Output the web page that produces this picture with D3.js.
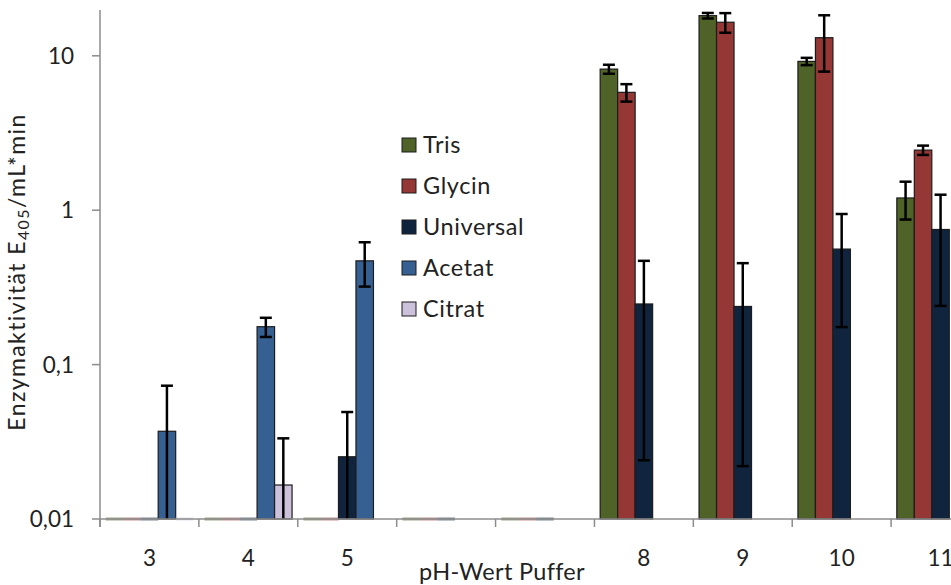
<!DOCTYPE html>
<html><head><meta charset="utf-8">
<script src="https://cdn.jsdelivr.net/npm/d3@7"></script>
<style>body{margin:0;background:#fff}svg{display:block}text{font-family:Lato,"Open Sans",sans-serif;fill:#222}</style>
</head><body><svg id="c" width="951" height="585"></svg>
<script>
// ---- data ----
const categories = ["3","4","5","","","8","9","10","11"];
const seriesNames = ["Tris","Glycin","Universal","Acetat","Citrat"];
const seriesColors = ["#4F6228","#953735","#10243E","#376092","#CCC1DA"];
// 0 = zero value (shown as line at base), null = no bar
const tris       = [0, 0, 0, 0, 0, 8.2, 18.2, 9.2, 1.2];
const trisErr    = [null, null, null, null, null, 0.55, 0.75, 0.5, 0.33];
const glycin     = [0, 0, 0, 0, 0, 5.8, 16.5, 13.1, 2.45];
const glycinErr  = [null, null, null, null, null, 0.75, 2.4, 5.2, 0.17];
const universal  = [0, 0, 0.0253, 0, 0, 0.247, 0.238, 0.56, 0.75];
const universalErr = [null, null, 0.024, null, null, 0.223, 0.216, 0.385, 0.51];
const acetat     = [0.037, 0.176, 0.47, null, null, null, null, null, null];
const acetatErr  = [0.036, 0.025, 0.15, null, null, null, null, null, null];
const citrat     = [0, 0.0166, null, null, null, null, null, null, null];
const citratErr  = [null, 0.0167, null, null, null, null, null, null, null];
const yTicks = [0.01, 0.1, 1, 10];
const yTickLabels = ["0,01", "0,1", "1", "10"];
const yTitle = ["Enzymaktivität E", "405", "/mL*min"];
const xTitle = "pH-Wert Puffer";

const values = [tris, glycin, universal, acetat, citrat];
const errors = [trisErr, glycinErr, universalErr, acetatErr, citratErr];

(function () {
// ---- layout ----
const svg = d3.select("#c");
const left = 100, base = 519, plotTop = 10, right = 990;
const yMin = 0.01, yMax = 19.8;
const y = d3.scaleLog().domain([yMin, yMax]).range([base, plotTop]);
const x0 = d3.scaleBand().domain(d3.range(categories.length)).range([left, right]);
const x1 = d3.scaleBand().domain(seriesNames).range([0, x0.bandwidth()]).paddingOuter(0.327);

const axisColor = "#8c8c8c";

// bars
const g = svg.append("g");
values.forEach((vals, si) => {
  vals.forEach((v, ci) => {
    if (v === null) return;
    const bx = x0(ci) + x1(seriesNames[si]);
    const bw = x1.bandwidth();
    if (v <= yMin) {
      g.append("rect").attr("x", bx).attr("y", base - 1.5).attr("width", bw).attr("height", 3)
        .attr("fill", seriesColors[si]).attr("opacity", 0.55);
      return;
    }
    g.append("rect").attr("x", bx).attr("y", y(v)).attr("width", bw).attr("height", base - y(v))
      .attr("fill", seriesColors[si]).attr("stroke", "#1c1c1c").attr("stroke-width", 1.2);
  });
});

// error bars
values.forEach((vals, si) => {
  vals.forEach((v, ci) => {
    const e = errors[si][ci];
    if (v === null || e === null || v <= yMin) return;
    const cx = x0(ci) + x1(seriesNames[si]) + x1.bandwidth() / 2;
    const hi = v + e, lo = v - e;
    const yHi = y(hi);
    const yLo = lo > yMin ? y(lo) : base;
    g.append("line").attr("x1", cx).attr("x2", cx).attr("y1", yHi).attr("y2", yLo)
      .attr("stroke", "#000").attr("stroke-width", 2.5);
    g.append("line").attr("x1", cx - 6).attr("x2", cx + 6).attr("y1", yHi).attr("y2", yHi)
      .attr("stroke", "#000").attr("stroke-width", 2.5);
    if (lo > yMin) {
      g.append("line").attr("x1", cx - 6).attr("x2", cx + 6).attr("y1", yLo).attr("y2", yLo)
        .attr("stroke", "#000").attr("stroke-width", 2.5);
    }
  });
});

// y axis
const ya = svg.append("g");
ya.append("line").attr("x1", left).attr("x2", left).attr("y1", plotTop).attr("y2", base + 8)
  .attr("stroke", axisColor).attr("stroke-width", 1.5);
yTicks.forEach((t, i) => {
  ya.append("line").attr("x1", left - 8).attr("x2", left).attr("y1", y(t)).attr("y2", y(t))
    .attr("stroke", axisColor).attr("stroke-width", 1.5);
  ya.append("text").attr("x", 74).attr("y", y(t)).attr("dy", "0.36em").attr("text-anchor", "end")
    .attr("font-size", 22.5).text(yTickLabels[i]);
});

// x axis
const xa = svg.append("g");
xa.append("line").attr("x1", left).attr("x2", right).attr("y1", base).attr("y2", base)
  .attr("stroke", axisColor).attr("stroke-width", 1.5);
d3.range(categories.length + 1).forEach(i => {
  const xx = left + i * x0.step();
  xa.append("line").attr("x1", xx).attr("x2", xx).attr("y1", base).attr("y2", base + 8)
    .attr("stroke", axisColor).attr("stroke-width", 1.5);
});
categories.forEach((c, i) => {
  xa.append("text").attr("x", x0(i) + x0.bandwidth() / 2).attr("y", 566).attr("text-anchor", "middle")
    .attr("font-size", 22.5).text(c);
});
svg.append("text").attr("x", 502).attr("y", 580).attr("text-anchor", "middle").attr("font-size", 23.5)
  .attr("letter-spacing", 0.3).text(xTitle);

// y title
const yt = svg.append("text").attr("transform", "translate(25,272) rotate(-90)").attr("text-anchor", "middle")
  .attr("font-size", 23).attr("letter-spacing", 1.4);
yt.append("tspan").text(yTitle[0]);
yt.append("tspan").attr("font-size", 16).attr("dy", 4).text(yTitle[1]);
yt.append("tspan").attr("dy", -4).text(yTitle[2]);

// legend
const lg = svg.append("g");
seriesNames.forEach((n, i) => {
  const ly = 145 + i * 41;
  lg.append("rect").attr("x", 402).attr("y", ly - 7).attr("width", 14).attr("height", 14)
    .attr("fill", seriesColors[i]).attr("stroke", "#1c1c1c").attr("stroke-width", 1);
  lg.append("text").attr("x", 423).attr("y", ly).attr("dy", "0.36em").attr("font-size", 23.5)
    .attr("letter-spacing", 0.6).text(n);
});
})();
</script></body></html>
